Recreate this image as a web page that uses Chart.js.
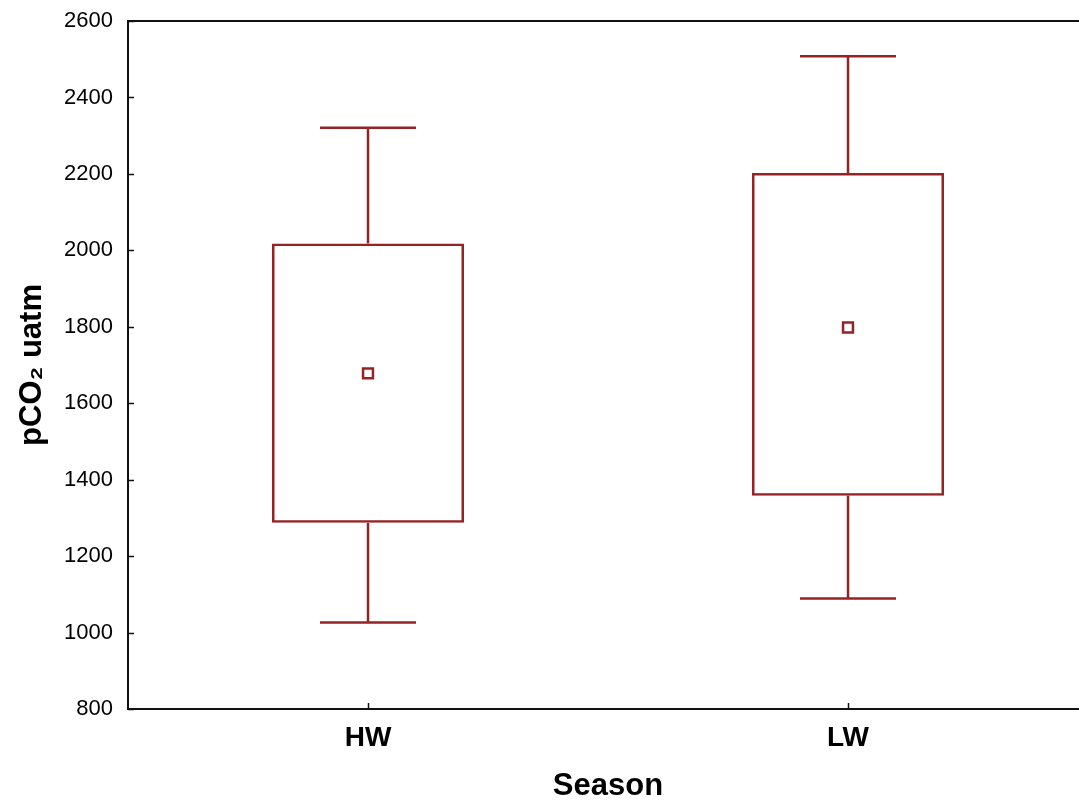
<!DOCTYPE html>
<html>
<head>
<meta charset="utf-8">
<title>pCO2 by season</title>
<script src="https://cdn.jsdelivr.net/npm/chart.js@4.4.1/dist/chart.umd.min.js"></script>
<style>
  html, body { margin: 0; padding: 0; background: #fff; overflow: hidden; }
  #wrap { position: relative; width: 1100px; height: 802px; }
</style>
</head>
<body>
<div id="wrap"><canvas id="boxChart"></canvas></div>
<script>
// Waarden
const categories = ['HW', 'LW'];
const whiskerMax = [2321, 2508];
const q3 = [2018, 2202];
const means = [1678, 1798];
const q1 = [1287, 1358];
const whiskerMin = [1026, 1089];
const yMin = 800, yMax = 2600, yStep = 200;

const RED = '#962226';
const FONT = "'Liberation Sans', Arial, sans-serif";

// Snorren (whiskers) tekenen via de schalen van Chart.js
const whiskerPlugin = {
  id: 'whiskers',
  afterDatasetsDraw(chart) {
    const { ctx, scales: { x, y } } = chart;
    const catW = x.getPixelForValue(1) - x.getPixelForValue(0);
    const capHalf = catW * 0.1;
    ctx.save();
    ctx.strokeStyle = RED;
    ctx.lineWidth = 2.5;
    categories.forEach((c, i) => {
      const px = x.getPixelForValue(i);
      const segs = [[q3[i], whiskerMax[i]], [q1[i], whiskerMin[i]]];
      segs.forEach(([from, to]) => {
        ctx.beginPath();
        ctx.moveTo(px, y.getPixelForValue(from));
        ctx.lineTo(px, y.getPixelForValue(to));
        ctx.stroke();
        const cy = y.getPixelForValue(to);
        ctx.beginPath();
        ctx.moveTo(px - capHalf, cy);
        ctx.lineTo(px + capHalf, cy);
        ctx.stroke();
      });
    });
    ctx.restore();
  }
};

// Kader met naar binnen gerichte tickstreepjes
const framePlugin = {
  id: 'frame',
  afterDraw(chart) {
    const { ctx, chartArea: a, scales: { x, y } } = chart;
    ctx.save();
    ctx.strokeStyle = '#111';
    ctx.lineWidth = 2;
    ctx.strokeRect(a.left, a.top, a.right - a.left, a.bottom - a.top);
    ctx.lineWidth = 1.5;
    y.ticks.forEach(t => {
      const py = Math.round(y.getPixelForValue(t.value)) + 0.5;
      ctx.beginPath();
      ctx.moveTo(a.left, py);
      ctx.lineTo(a.left + 6, py);
      ctx.stroke();
    });
    categories.forEach((c, i) => {
      const px = Math.round(x.getPixelForValue(i)) + 0.5;
      ctx.beginPath();
      ctx.moveTo(px, a.bottom);
      ctx.lineTo(px, a.bottom - 6);
      ctx.stroke();
    });
    ctx.restore();
  }
};

new Chart(document.getElementById('boxChart'), {
  data: {
    labels: categories,
    datasets: [
      {
        type: 'bar',
        label: 'IQR',
        data: q1.map((v, i) => [v, q3[i]]),
        backgroundColor: 'rgba(0,0,0,0)',
        borderColor: RED,
        borderWidth: 2.5,
        borderSkipped: false,
        barPercentage: 0.4,
        categoryPercentage: 1.0,
        order: 2
      },
      {
        type: 'line',
        label: 'Mean',
        data: means,
        showLine: false,
        pointStyle: 'rect',
        pointRadius: 7,
        pointBorderWidth: 2.5,
        pointBorderColor: RED,
        pointBackgroundColor: '#fff',
        order: 1
      }
    ]
  },
  options: {
    responsive: true,
    maintainAspectRatio: false,
    animation: false,
    layout: { padding: { top: 21, right: 12, left: 0, bottom: 0 } },
    plugins: { legend: { display: false }, tooltip: { enabled: false } },
    scales: {
      x: {
        type: 'category',
        offset: true,
        grid: { display: false, drawTicks: false },
        border: { display: false },
        ticks: {
          color: '#000',
          padding: 12,
          font: { family: FONT, size: 28, weight: 'bold' }
        },
        title: {
          display: true,
          text: 'Season',
          color: '#000',
          padding: { top: 0, bottom: 0 },
          font: { family: FONT, size: 31, weight: 'bold', lineHeight: 1 }
        },
        afterFit(s) { s.height = 93; }
      },
      y: {
        min: yMin,
        max: yMax,
        grid: { display: false, drawTicks: false },
        border: { display: false },
        ticks: {
          stepSize: yStep,
          color: '#000',
          padding: 15,
          font: { family: FONT, size: 22 },
          callback: v => String(v)
        },
        title: {
          display: true,
          text: 'pCO\u2082 uatm',
          color: '#000',
          padding: { top: 17, bottom: 0 },
          font: { family: FONT, size: 31, weight: 'bold', lineHeight: 1 }
        },
        afterFit(s) {
          s.width = 128;
          s.paddingTop = 0;
          s.paddingBottom = 0;
        }
      }
    }
  },
  plugins: [whiskerPlugin, framePlugin]
});
</script>
</body>
</html>
